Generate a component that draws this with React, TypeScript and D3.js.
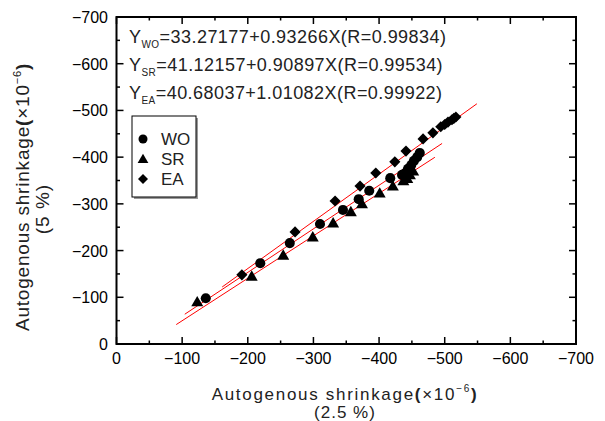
import React from "react";
import * as d3 from "d3";

// ---- data ----
const woX = [-136, -219, -264, -310, -345, -369, -385, -417, -435, -440, -444, -449, -453, -458, -462];
const woY = [-98, -173, -216, -257, -287, -310, -328, -355, -362, -366, -375, -383, -392, -400, -409];

const srX = [-123, -206, -254, -299, -330, -357, -374, -401, -421, -437, -443, -447, -452];
const srY = [-88, -143, -188, -227, -257, -281, -298, -321, -336, -347, -352, -360, -368];

const eaX = [-191, -272, -333, -371, -395, -424, -441, -467, -482, -494, -500, -505, -511, -514, -517];
const eaY = [-148, -240, -306, -338, -366, -390, -413, -439, -452, -465, -470, -475, -480, -483, -486];

// regression lines: intercept, slope, x-start, x-end
const fitNames = ["WO", "SR", "EA"];
const fitA = [33.27177, 41.12157, 40.68037];
const fitB = [0.93266, 0.90897, 1.01082];
const fitFrom = [-104, -91, -161];
const fitTo = [-496, -485, -549];

const equationLines = [
  { sub: "WO", rest: "=33.27177+0.93266X(R=0.99834)" },
  { sub: "SR", rest: "=41.12157+0.90897X(R=0.99534)" },
  { sub: "EA", rest: "=40.68037+1.01082X(R=0.99922)" },
];

const axisTicks = d3.range(0, -701, -50);

const FONT = "'Liberation Sans', Arial, sans-serif";

export default function App() {
  const x = d3.scaleLinear().domain([0, -700]).range([116.5, 576]);
  const y = d3.scaleLinear().domain([0, -700]).range([344, 17]);

  const circlePath = d3.symbol(d3.symbolCircle, 80)()!;
  const triPath = d3.symbol(d3.symbolTriangle, 62)()!;
  const sqPath = d3.symbol(d3.symbolSquare, 62)()!;
  const circleLeg = d3.symbol(d3.symbolCircle, 64)()!;
  const triLeg = d3.symbol(d3.symbolTriangle, 50)()!;
  const sqLeg = d3.symbol(d3.symbolSquare, 50)()!;

  const lbl = (v: number) => (v === 0 ? "0" : "\u2212" + Math.abs(v));

  const [x0, x1] = x.range();
  const [y0, y1] = y.range();

  return (
    <svg
      width={605}
      height={421}
      style={{ position: "absolute", left: 0, top: 0, background: "#fff" }}
      fontFamily={FONT}
    >
      {/* fit lines */}
      {fitNames.map((n, i) => (
        <line
          key={n}
          x1={x(fitFrom[i])}
          y1={y(fitA[i] + fitB[i] * fitFrom[i])}
          x2={x(fitTo[i])}
          y2={y(fitA[i] + fitB[i] * fitTo[i])}
          stroke="#ff0000"
          strokeWidth={1}
        />
      ))}

      {/* markers */}
      {woX.map((v, i) => (
        <path key={"wo" + i} d={circlePath} transform={`translate(${x(v)},${y(woY[i])})`} fill="#000" />
      ))}
      {srX.map((v, i) => (
        <path key={"sr" + i} d={triPath} transform={`translate(${x(v)},${y(srY[i])})`} fill="#000" />
      ))}
      {eaX.map((v, i) => (
        <path key={"ea" + i} d={sqPath} transform={`translate(${x(v)},${y(eaY[i])}) rotate(45)`} fill="#000" />
      ))}

      {/* frame */}
      <rect x={x0} y={y1} width={x1 - x0} height={y0 - y1} fill="none" stroke="#000" strokeWidth={2} />

      {/* ticks */}
      {axisTicks.map((t) => {
        const major = t % 100 === 0;
        const len = major ? 7 : 3.5;
        return (
          <g key={"t" + t} stroke="#000" strokeWidth={1.5}>
            <line x1={x(t)} x2={x(t)} y1={y0} y2={y0 - len} />
            <line x1={x(t)} x2={x(t)} y1={y1} y2={y1 + len} />
            <line x1={x0} x2={x0 + len} y1={y(t)} y2={y(t)} />
            <line x1={x1} x2={x1 - len} y1={y(t)} y2={y(t)} />
          </g>
        );
      })}

      {/* tick labels */}
      {axisTicks
        .filter((t) => t % 100 === 0)
        .map((t) => (
          <g key={"l" + t} fontSize={16} fill="#000">
            <text x={x(t)} y={364} textAnchor="middle">
              {lbl(t)}
            </text>
            <text x={108} y={y(t) + 6} textAnchor="end">
              {lbl(t)}
            </text>
          </g>
        ))}

      {/* x title */}
      <text x={345} y={400} textAnchor="middle" fontSize={17} fill="#222" letterSpacing={1.7}>
        Autogenous shrinkage<tspan fontWeight="bold">(</tspan>×10
        <tspan fontSize={10} dy={-8}>−6</tspan>
        <tspan dy={8} fontWeight="bold">)</tspan>
      </text>
      <text x={345} y={418} textAnchor="middle" fontSize={17} fill="#222" letterSpacing={1}>
        (2.5 %)
      </text>

      {/* y title */}
      <g transform="translate(29,197) rotate(-90)">
        <text x={0} y={0} textAnchor="middle" fontSize={19} fill="#222" letterSpacing={0.8}>
          Autogenous shrinkage<tspan fontWeight="bold">(</tspan>×10
          <tspan fontSize={11} dy={-8}>−6</tspan>
          <tspan dy={8} fontWeight="bold">)</tspan>
        </text>
      </g>
      <g transform="translate(49,209) rotate(-90)">
        <text x={0} y={0} textAnchor="middle" fontSize={19} fill="#222" letterSpacing={1}>
          (5 %)
        </text>
      </g>

      {/* equations */}
      {equationLines.map((e, i) => (
        <text key={e.sub} x={129} y={43 + i * 28} fontSize={18} fill="#222" letterSpacing={0.45}>
          Y<tspan fontSize={10} dy={5}>{e.sub}</tspan>
          <tspan dy={-5}>{e.rest}</tspan>
        </text>
      ))}

      {/* legend */}
      <rect x={134} y={118} width={64} height={81} fill="#999" />
      <rect x={132} y={116} width={64} height={81} fill="#fff" stroke="#000" strokeWidth={1} />
      <path d={circleLeg} transform="translate(143,139)" fill="#000" />
      <path d={triLeg} transform="translate(143,160)" fill="#000" />
      <path d={sqLeg} transform="translate(143,179) rotate(45)" fill="#000" />
      {fitNames.map((n, i) => (
        <text key={"lg" + n} x={161} y={145 + i * 20} fontSize={17} fill="#222">
          {n}
        </text>
      ))}
    </svg>
  );
}
